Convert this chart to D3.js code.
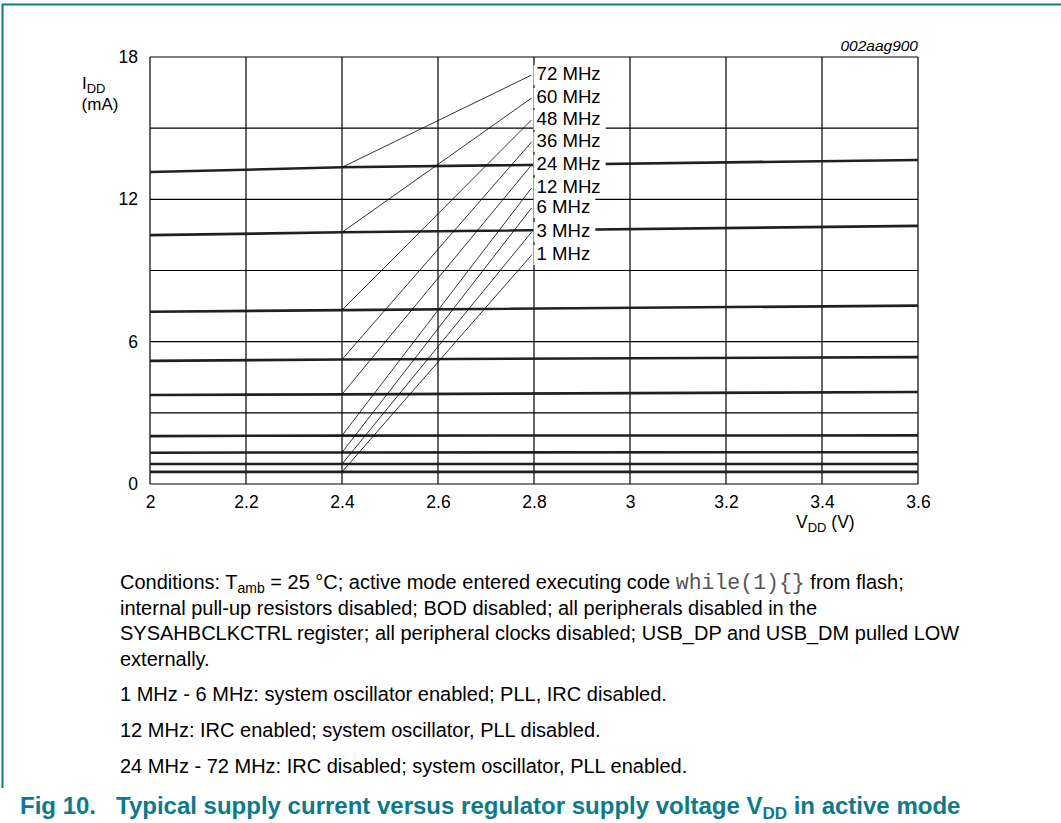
<!DOCTYPE html>
<html>
<head>
<meta charset="utf-8">
<script src="https://cdn.jsdelivr.net/npm/d3@7"></script>
<style>
  body { margin: 0; background: #fff; }
  svg { font-family: "Liberation Sans", Arial, sans-serif; }
</style>
</head>
<body>
<div id="chart"></div>
<script>
// voltages where the curves were read
var voltages = [2.0, 2.4, 3.6];
var freqLabels = ["72 MHz", "60 MHz", "48 MHz", "36 MHz", "24 MHz", "12 MHz", "6 MHz", "3 MHz", "1 MHz"];
// IDD (mA) at 2.0 V, 2.4 V, 3.6 V
var idd_20 = [13.15, 10.49, 7.26, 5.19, 3.75, 2.02, 1.32, 0.84, 0.51];
var idd_24 = [13.35, 10.61, 7.33, 5.25, 3.78, 2.04, 1.33, 0.84, 0.51];
var idd_36 = [13.66, 10.88, 7.52, 5.35, 3.88, 2.05, 1.34, 0.84, 0.51];
// where the label leaders end (V, mA)
var leaderEndV = 2.795;
var leaderEndI = [17.24, 16.27, 15.35, 14.42, 13.45, 12.48, 11.64, 10.62, 9.65];

var xTicks = [2, 2.2, 2.4, 2.6, 2.8, 3, 3.2, 3.4, 3.6];
var yTicks = [0, 6, 12, 18];
var yGrid = [0, 3, 6, 9, 12, 15, 18];

var conditionLines = [
  "internal pull-up resistors disabled; BOD disabled; all peripherals disabled in the",
  "SYSAHBCLKCTRL register; all peripheral clocks disabled; USB_DP and USB_DM pulled LOW",
  "externally."
];
var noteLines = [
  "1 MHz - 6 MHz: system oscillator enabled; PLL, IRC disabled.",
  "12 MHz: IRC enabled; system oscillator, PLL disabled.",
  "24 MHz - 72 MHz: IRC disabled; system oscillator, PLL enabled."
];

var width = 1061;
var height = 823;
var margin = { top: 57, right: 143, bottom: 339, left: 150 };
var teal = "#0b7a8c";
var textSize = 20;
var tickSize = 17.5;

var svg = d3.select("#chart").append("svg")
  .attr("width", width)
  .attr("height", height);

// frame
svg.append("path")
  .attr("d", "M2.5,788 L2.5,4.5 L" + width + ",4.5")
  .attr("fill", "none")
  .attr("stroke", teal)
  .attr("stroke-width", 2);

var x = d3.scaleLinear().domain([2, 3.6]).range([margin.left, width - margin.right]);
var y = d3.scaleLinear().domain([0, 18]).range([height - margin.bottom, margin.top]);

// grid
var grid = svg.append("g").attr("class", "grid")
  .attr("stroke", "#000").attr("stroke-width", 1.2);
grid.selectAll("line.v").data(xTicks).join("line")
  .attr("class", "v")
  .attr("x1", d => x(d)).attr("x2", d => x(d))
  .attr("y1", y(0)).attr("y2", y(18));
grid.selectAll("line.h").data(yGrid).join("line")
  .attr("class", "h")
  .attr("x1", x(2)).attr("x2", x(3.6))
  .attr("y1", d => y(d)).attr("y2", d => y(d));

// axes (labels only)
function xAxis(g) {
  g.attr("transform", `translate(0, ${y(0)})`)
    .call(d3.axisBottom(x).tickValues(xTicks).tickSize(0).tickPadding(12).tickFormat(d3.format("")))
    .call(g => g.select(".domain").remove());
  g.selectAll("text").attr("font-size", tickSize).attr("fill", "#000").attr("font-family", "Liberation Sans, Arial, sans-serif");
}
function yAxis(g) {
  g.attr("transform", `translate(${x(2)}, 0)`)
    .call(d3.axisLeft(y).tickValues(yTicks).tickSize(0).tickPadding(12))
    .call(g => g.select(".domain").remove());
  g.selectAll("text").attr("font-size", tickSize).attr("fill", "#000").attr("font-family", "Liberation Sans, Arial, sans-serif");
}
svg.append("g").call(xAxis);
svg.append("g").call(yAxis);

// data curves
var series = freqLabels.map(function (f, i) {
  return { name: f, pts: [idd_20[i], idd_24[i], idd_36[i]].map((v, j) => ({ v: voltages[j], i: v })) };
});
var line = d3.line().x(d => x(d.v)).y(d => y(d.i));
svg.append("g").attr("class", "curves")
  .selectAll("path").data(series).join("path")
  .attr("d", d => line(d.pts))
  .attr("fill", "none")
  .attr("stroke", "#231f20")
  .attr("stroke-width", 2.6);

// leader lines
svg.append("g").attr("class", "leaders")
  .selectAll("line").data(series).join("line")
  .attr("x1", x(2.4))
  .attr("y1", (d, i) => y(idd_24[i]))
  .attr("x2", x(leaderEndV))
  .attr("y2", (d, i) => y(leaderEndI[i]))
  .attr("stroke", "#000")
  .attr("stroke-width", 0.8);

// labels with white background
var lab = svg.append("g").attr("class", "labels")
  .selectAll("g").data(series).join("g")
  .attr("transform", (d, i) => `translate(${x(leaderEndV) + 5}, ${y(leaderEndI[i]) + 5})`);
var labRect = lab.append("rect")
  .attr("x", -3).attr("y", -15)
  .attr("height", 20)
  .attr("fill", "#fff");
var labText = lab.append("text")
  .attr("font-size", 18.6)
  .text(d => d.name);
labRect.attr("width", function (d, i) {
  return labText.nodes()[i].getComputedTextLength() + 8;
});

// id code
svg.append("text")
  .attr("x", x(3.6)).attr("y", 51)
  .attr("text-anchor", "end")
  .attr("font-size", 15.5)
  .attr("font-style", "italic")
  .text("002aag900");

// y axis title
var yt = svg.append("text").attr("x", 82).attr("y", 89).attr("font-size", 17);
yt.append("tspan").text("I");
yt.append("tspan").attr("dy", 4).attr("font-size", 13).text("DD");
svg.append("text").attr("x", 100).attr("y", 110).attr("text-anchor", "middle").attr("font-size", 17).text("(mA)");

// x axis title
var xt = svg.append("text").attr("x", 796).attr("y", 528).attr("font-size", tickSize);
xt.append("tspan").text("V");
xt.append("tspan").attr("dy", 4).attr("font-size", 13).text("DD");
xt.append("tspan").attr("dy", -4).text(" (V)");

// conditions
var c1 = svg.append("text").attr("x", 120).attr("y", 589).attr("font-size", textSize);
c1.append("tspan").text("Conditions: T");
c1.append("tspan").attr("dy", 4).attr("font-size", 14).text("amb");
c1.append("tspan").attr("dy", -4).text(" = 25 \u00b0C; active mode entered executing code ");
c1.append("tspan").attr("font-family", "Liberation Mono, DejaVu Sans Mono, monospace")
  .attr("font-size", 21.5).attr("fill", "#555").text("while(1){}");
c1.append("tspan").text(" from flash;");

svg.append("g").selectAll("text").data(conditionLines).join("text")
  .attr("x", 120).attr("y", (d, i) => 614.5 + i * 25.5)
  .attr("font-size", textSize)
  .text(d => d);

svg.append("g").selectAll("text").data(noteLines).join("text")
  .attr("x", 120).attr("y", (d, i) => 701 + i * 36)
  .attr("font-size", textSize)
  .text(d => d);

// caption
var cap = svg.append("text").attr("x", 20).attr("y", 814)
  .attr("font-size", 24).attr("font-weight", "bold").attr("fill", teal);
cap.append("tspan").text("Fig 10.\u00a0\u00a0\u00a0Typical supply current versus regulator supply voltage V");
cap.append("tspan").attr("dy", 5).attr("font-size", 17).text("DD");
cap.append("tspan").attr("dy", -5).text(" in active mode");
</script>
</body>
</html>
